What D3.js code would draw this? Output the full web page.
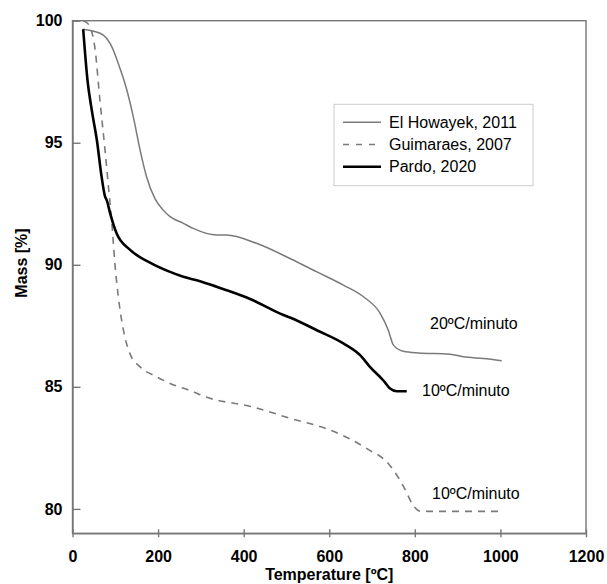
<!DOCTYPE html>
<html>
    <body style="margin:0">
        <svg></svg>
        <script src="https://d3js.org/d3.v7.min.js"></script>

        <style>
          body { background: #fff; }
          svg text { font-family: "Liberation Sans", Arial, sans-serif; }
          .tick text { font-size: 16px; font-weight: bold; fill: #000; }
          .axis path, .axis line { stroke: #777; stroke-width: 1.4px; }
        </style>

        <script>
            const width = 607;
            const height = 584;

            // series: [temperature ºC, mass %]
            const elHowayek = [[25,99.65],[49,99.57],[72,99.41],[92,98.93],[107,98.25],[127,97.16],[142,96.07],
                [158,94.7],[173,93.61],[193,92.7],[212,92.24],[228,91.97],[259,91.7],[282,91.49],[337,91.22],
                [360,91.22],[430,90.88],[508,90.26],[571,89.71],[633,89.17],[680,88.69],[719,88.01],[738,87.32],
                [750,86.71],[773,86.46],[808,86.39],[882,86.34],[913,86.23],[960,86.16],[1003,86.07]];
            const guimaraes = [[25,100.0],[37,99.86],[45,99.55],[53,98.8],[64,96.75],[76,94.7],[84,93.2],
                [92,91.7],[99,90.06],[107,88.7],[119,87.32],[134,86.37],[158,85.82],[197,85.41],[228,85.14],
                [282,84.8],[306,84.62],[420,84.18],[511,83.7],[602,83.23],[690,82.45],[738,81.86],[765,81.18],
                [774,80.9],[798,80.1],[810,79.92],[829,79.9],[1000,79.9]];
            const pardo = [[25,99.65],[35,97.57],[45,96.34],[57,95.1],[68,93.61],[76,92.8],[80,92.65],[88,92.11],
                [103,91.29],[134,90.62],[181,90.09],[228,89.71],[259,89.51],[298,89.33],[337,89.1],[360,88.96],
                [415,88.6],[493,87.94],[508,87.84],[571,87.32],[633,86.78],[672,86.3],[695,85.82],[726,85.27],
                [742,84.93],[758,84.82],[781,84.82]];

            const xTicks = [0, 200, 400, 600, 800, 1000, 1200];
            const yTicks = [80, 85, 90, 95, 100];

            const series = [
                {name: "El Howayek, 2011", values: elHowayek, color: "#7a7a7a", w: 1.5, dash: null},
                {name: "Guimaraes, 2007", values: guimaraes, color: "#7a7a7a", w: 1.6, dash: "7,6"},
                {name: "Pardo, 2020", values: pardo, color: "#000", w: 2.6, dash: null}
            ];
            const rateLabels = [
                {text: "20ºC/minuto", x: 430, y: 329},
                {text: "10ºC/minuto", x: 422, y: 396},
                {text: "10ºC/minuto", x: 432, y: 499}
            ];

            const margin = {left: 72.5, right: width - 586, top: 20.7, bottom: height - 533.3};

            const svg = d3.select('svg')
                .attr('width', width).attr('height', height);

            const x = d3.scaleLinear().domain([0, 1200]).range([margin.left, width - margin.right]);
            const y = d3.scaleLinear().domain([79, 100]).range([height - margin.bottom, margin.top]);

            // frame
            svg.append("rect")
                .attr("x", x(0)).attr("y", y(100))
                .attr("width", x(1200) - x(0)).attr("height", y(79) - y(100))
                .style("fill", "none").style("stroke", "#777").style("stroke-width", "1.4px");

            const xAxis = svg.append("g")
                .attr("class", "axis")
                .attr("transform", `translate(0,${y(79)})`)
                .call(d3.axisBottom(x).tickValues(xTicks).tickFormat(d3.format("d"))
                    .tickSizeInner(-4).tickSizeOuter(0).tickPadding(17));
            xAxis.selectAll(".tick line").attr("y1", 4).attr("y2", -4);

            svg.append("g")
                .attr("class", "axis")
                .attr("transform", `translate(${x(0)},0)`)
                .call(d3.axisLeft(y).tickValues(yTicks).tickSizeInner(-8).tickSizeOuter(0).tickPadding(10));

            // axis titles
            svg.append("text")
                .attr("x", (x(0) + x(1200)) / 2).attr("y", 580)
                .attr("text-anchor", "middle")
                .style("font-size", "16px").style("font-weight", "bold")
                .text("Temperature [ºC]");

            svg.append("text")
                .attr("transform", "translate(27,263) rotate(-90)")
                .attr("text-anchor", "middle")
                .style("font-size", "16px").style("font-weight", "bold")
                .text("Mass [%]");

            const line = d3.line()
                .x(d => x(d[0]))
                .y(d => y(d[1]))
                .curve(d3.curveMonotoneX);

            svg.selectAll(".curve")
                .data(series)
                .enter().append("path")
                .attr("class", "curve")
                .attr("d", d => line(d.values))
                .style("fill", "none")
                .style("stroke", d => d.color)
                .style("stroke-width", d => d.w + "px")
                .style("stroke-dasharray", d => d.dash);

            svg.selectAll(".rate")
                .data(rateLabels)
                .enter().append("text")
                .attr("class", "rate")
                .attr("x", d => d.x).attr("y", d => d.y)
                .style("font-size", "16px")
                .text(d => d.text);

            // legend
            const legend = svg.append("g");
            legend.append("rect")
                .attr("x", 334).attr("y", 104.3).attr("width", 199).attr("height", 81.4)
                .style("fill", "#fff").style("stroke", "#ccc").style("stroke-width", "1px");
            const item = legend.selectAll(".item")
                .data(series)
                .enter().append("g")
                .attr("class", "item")
                .attr("transform", (d, i) => `translate(0,${122.3 + i * 22.2})`);
            item.append("line")
                .attr("x1", 343).attr("x2", 381)
                .style("stroke", d => d.color)
                .style("stroke-width", d => d.w + "px")
                .style("stroke-dasharray", d => d.dash ? "6,7" : null);
            item.append("text")
                .attr("x", 389).attr("dy", "0.35em")
                .style("font-size", "16px")
                .text(d => d.name);
        </script>
    </body>
</html>
